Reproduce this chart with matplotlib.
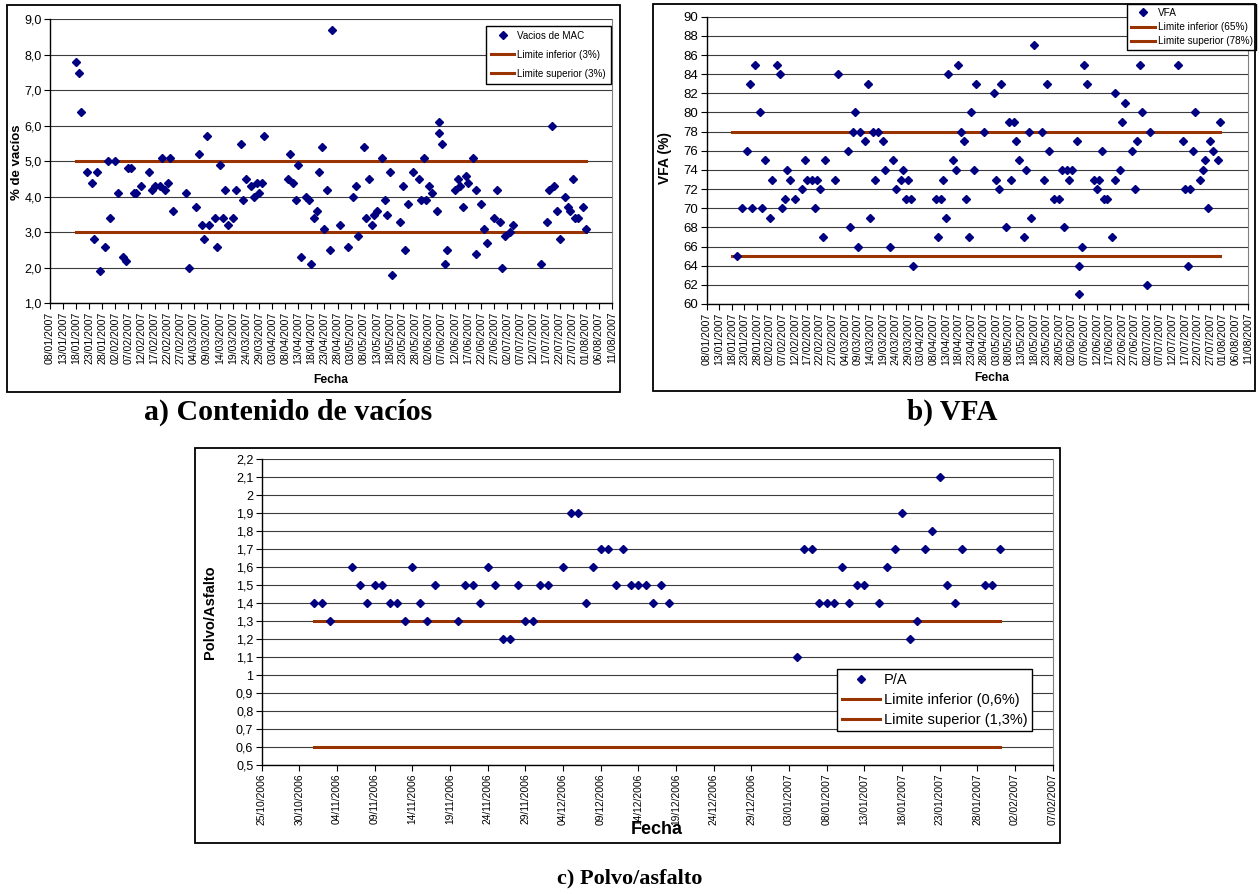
import matplotlib
matplotlib.use('Agg')
import matplotlib.pyplot as plt
import matplotlib.dates as mdates
from matplotlib.patches import Rectangle
from datetime import datetime, timedelta

plt.rcParams['font.family'] = ['Liberation Sans', 'DejaVu Sans']

# ---------------- DATA ----------------
# a) Contenido de vacíos (2007)
a_fechas = [
    '18/01', '19/01', '20/01', '22/01', '24/01', '25/01', '26/01', '27/01', '29/01', '30/01', '31/01',
    '02/02', '03/02', '05/02', '06/02', '07/02', '08/02', '09/02', '10/02', '12/02', '15/02', '16/02',
    '17/02', '19/02', '20/02', '21/02', '22/02', '23/02', '24/02',
    '01/03', '02/03', '05/03', '06/03', '07/03', '08/03', '09/03', '10/03', '12/03', '13/03', '14/03',
    '15/03', '16/03', '17/03', '19/03', '20/03', '22/03', '23/03', '24/03', '26/03', '27/03', '28/03',
    '29/03', '30/03', '31/03',
    '09/04', '10/04', '11/04', '12/04', '13/04', '14/04', '16/04', '17/04', '18/04', '19/04', '20/04',
    '21/04', '22/04', '23/04', '24/04', '25/04', '26/04', '29/04',
    '02/05', '04/05', '05/05', '06/05', '08/05', '09/05', '10/05', '11/05', '12/05', '13/05', '15/05',
    '16/05', '17/05', '18/05', '19/05', '22/05', '23/05', '24/05', '25/05', '27/05', '29/05', '30/05', '31/05',
    '01/06', '02/06', '03/06', '05/06', '06/06', '06/06', '07/06', '08/06', '09/06', '12/06', '13/06',
    '14/06', '15/06', '16/06', '17/06', '19/06', '20/06', '20/06', '22/06', '23/06', '24/06', '27/06',
    '28/06', '29/06', '30/06',
    '01/07', '03/07', '04/07', '15/07', '17/07', '18/07', '19/07', '20/07', '21/07', '22/07', '24/07',
    '25/07', '26/07', '27/07', '28/07', '29/07', '31/07',
    '01/08']
a_vacios = [
    7.8, 7.5, 6.4, 4.7, 4.4, 2.8, 4.7, 1.9, 2.6, 5.0, 3.4,
    5.0, 4.1, 2.3, 2.2, 4.8, 4.8, 4.1, 4.1, 4.3, 4.7, 4.2,
    4.3, 4.3, 5.1, 4.2, 4.4, 5.1, 3.6,
    4.1, 2.0, 3.7, 5.2, 3.2, 2.8, 5.7, 3.2, 3.4, 2.6, 4.9,
    3.4, 4.2, 3.2, 3.4, 4.2, 5.5, 3.9, 4.5, 4.3, 4.0, 4.4,
    4.1, 4.4, 5.7,
    4.5, 5.2, 4.4, 3.9, 4.9, 2.3, 4.0, 3.9, 2.1, 3.4, 3.6,
    4.7, 5.4, 3.1, 4.2, 2.5, 8.7, 3.2,
    2.6, 4.0, 4.3, 2.9, 5.4, 3.4, 4.5, 3.2, 3.5, 3.6, 5.1,
    3.9, 3.5, 4.7, 1.8, 3.3, 4.3, 2.5, 3.8, 4.7, 4.5, 3.9, 5.1,
    3.9, 4.3, 4.1, 3.6, 6.1, 5.8, 5.5, 2.1, 2.5, 4.2, 4.5,
    4.3, 3.7, 4.6, 4.4, 5.1, 4.2, 2.4, 3.8, 3.1, 2.7, 3.4,
    4.2, 3.3, 2.0,
    2.9, 3.0, 3.2, 2.1, 3.3, 4.2, 6.0, 4.3, 3.6, 2.8, 4.0,
    3.7, 3.6, 4.5, 3.4, 3.4, 3.7,
    3.1]
a_anio = 2007
a_limites = [3.0, 5.0]
a_limites_rango = ['18/01/2007', '01/08/2007']
a_eje = ['08/01/2007', '11/08/2007']

# b) VFA (2007)
b_fechas = [
    '20/01', '22/01', '24/01', '25/01', '26/01', '27/01', '29/01', '30/01', '31/01',
    '02/02', '03/02', '05/02', '06/02', '07/02', '08/02', '09/02', '10/02', '12/02', '15/02', '16/02',
    '17/02', '19/02', '20/02', '21/02', '22/02', '23/02', '24/02', '28/02',
    '01/03', '05/03', '06/03', '07/03', '08/03', '09/03', '10/03', '12/03', '13/03', '14/03', '15/03',
    '16/03', '17/03', '19/03', '20/03', '22/03', '23/03', '24/03', '26/03', '27/03', '28/03', '29/03',
    '30/03', '31/03',
    '09/04', '10/04', '11/04', '12/04', '13/04', '14/04', '16/04', '17/04', '18/04', '19/04', '20/04',
    '21/04', '22/04', '23/04', '24/04', '25/04', '28/04',
    '02/05', '03/05', '04/05', '05/05', '07/05', '08/05', '09/05', '10/05', '11/05', '12/05', '14/05',
    '15/05', '16/05', '17/05', '18/05', '21/05', '22/05', '23/05', '24/05', '26/05', '28/05', '29/05',
    '30/05', '31/05',
    '01/06', '02/06', '04/06', '05/06', '05/06', '06/06', '07/06', '08/06', '11/06', '12/06', '13/06',
    '14/06', '15/06', '16/06', '18/06', '19/06', '19/06', '21/06', '22/06', '23/06', '26/06', '27/06',
    '28/06', '29/06', '30/06',
    '02/07', '03/07', '14/07', '16/07', '17/07', '18/07', '19/07', '20/07', '21/07', '23/07', '24/07',
    '25/07', '26/07', '27/07', '28/07', '30/07', '31/07']
b_vfa = [
    65, 70, 76, 83, 70, 85, 80, 70, 75,
    69, 73, 85, 84, 70, 71, 74, 73, 71, 72, 75,
    73, 73, 70, 73, 72, 67, 75, 73,
    84, 76, 68, 78, 80, 66, 78, 77, 83, 69, 78,
    73, 78, 77, 74, 66, 75, 72, 73, 74, 71, 73,
    71, 64,
    71, 67, 71, 73, 69, 84, 75, 74, 85, 78, 77,
    71, 67, 80, 74, 83, 78,
    82, 73, 72, 83, 68, 79, 73, 79, 77, 75, 67,
    74, 78, 69, 87, 78, 73, 83, 76, 71, 71, 74,
    68, 74,
    73, 74, 77, 64, 61, 66, 85, 83, 73, 72, 73,
    76, 71, 71, 67, 73, 82, 74, 79, 81, 76, 72,
    77, 85, 80,
    62, 78, 85, 77, 72, 64, 72, 76, 80, 73, 74,
    75, 70, 77, 76, 75, 79]
b_anio = 2007
b_limites = [65, 78]
b_limites_rango = ['18/01/2007', '31/07/2007']
b_eje = ['08/01/2007', '11/08/2007']

# c) Polvo/asfalto (2006-2007)
c_fechas = [
    '01/11/2006', '02/11/2006', '03/11/2006', '06/11/2006', '07/11/2006', '08/11/2006', '09/11/2006',
    '10/11/2006', '11/11/2006', '12/11/2006', '13/11/2006', '14/11/2006', '15/11/2006', '16/11/2006',
    '17/11/2006', '20/11/2006', '21/11/2006', '22/11/2006', '23/11/2006', '24/11/2006', '25/11/2006',
    '26/11/2006', '27/11/2006', '28/11/2006', '29/11/2006', '30/11/2006',
    '01/12/2006', '02/12/2006', '04/12/2006', '05/12/2006', '06/12/2006', '07/12/2006', '08/12/2006',
    '09/12/2006', '10/12/2006', '11/12/2006', '12/12/2006', '13/12/2006', '14/12/2006', '15/12/2006',
    '16/12/2006', '17/12/2006', '18/12/2006',
    '04/01/2007', '05/01/2007', '06/01/2007', '07/01/2007', '08/01/2007', '09/01/2007', '10/01/2007',
    '11/01/2007', '12/01/2007', '13/01/2007', '15/01/2007', '16/01/2007', '17/01/2007', '18/01/2007',
    '19/01/2007', '20/01/2007', '21/01/2007', '22/01/2007', '23/01/2007', '24/01/2007', '25/01/2007',
    '26/01/2007', '29/01/2007', '30/01/2007', '31/01/2007']
c_pa = [
    1.4, 1.4, 1.3, 1.6, 1.5, 1.4, 1.5,
    1.5, 1.4, 1.4, 1.3, 1.6, 1.4, 1.3,
    1.5, 1.3, 1.5, 1.5, 1.4, 1.6, 1.5,
    1.2, 1.2, 1.5, 1.3, 1.3,
    1.5, 1.5, 1.6, 1.9, 1.9, 1.4, 1.6,
    1.7, 1.7, 1.5, 1.7, 1.5, 1.5, 1.5,
    1.4, 1.5, 1.4,
    1.1, 1.7, 1.7, 1.4, 1.4, 1.4, 1.6,
    1.4, 1.5, 1.5, 1.4, 1.6, 1.7, 1.9,
    1.2, 1.3, 1.7, 1.8, 2.1, 1.5, 1.4,
    1.7, 1.5, 1.5, 1.7]
c_limites = [0.6, 1.3]
c_limites_rango = ['01/11/2006', '31/01/2007']
c_eje = ['25/10/2006', '07/02/2007']

# ---------------- STYLE ----------------
W, H = 1259, 894
fig = plt.figure(figsize=(W / 100, H / 100), dpi=100)
NAVY = '#000080'
BROWN = '#993300'
GRID = '#3c3c3c'


def d(s):
    return datetime.strptime(s, '%d/%m/%Y')


def px_axes(l, t, r, b):
    return fig.add_axes([l / W, 1 - b / H, (r - l) / W, (b - t) / H])


def frame(l, t, r, b):
    fig.patches.append(Rectangle((l / W, 1 - b / H), (r - l) / W, (b - t) / H,
                                 transform=fig.transFigure, fill=False,
                                 edgecolor='black', linewidth=1.3))


def style_axes(ax, eje, yticks, yfmt, xfs, yfs):
    x0, x1 = d(eje[0]), d(eje[1])
    ax.set_xlim(x0, x1)
    ticks = []
    t = x0
    while t <= x1:
        ticks.append(t)
        t += timedelta(days=5)
    ax.set_xticks(ticks)
    ax.xaxis.set_major_formatter(mdates.DateFormatter('%d/%m/%Y'))
    ax.set_yticks(yticks)
    ax.set_yticklabels([yfmt(v) for v in yticks])
    ax.set_ylim(yticks[0], yticks[-1])
    for lab in ax.get_xticklabels():
        lab.set_rotation(90)
        lab.set_fontsize(xfs)
    for lab in ax.get_yticklabels():
        lab.set_fontsize(yfs)
    ax.tick_params(axis='both', direction='out', length=4, width=0.8, pad=2)
    ax.grid(axis='y', color=GRID, linewidth=0.8)
    ax.set_axisbelow(True)
    ax.spines['top'].set_visible(False)
    ax.spines['right'].set_color('#808080')
    ax.spines['right'].set_linewidth(0.8)
    ax.spines['left'].set_linewidth(1.0)
    ax.spines['bottom'].set_linewidth(1.0)


def legend(ax, labels, anchor, fs, **kw):
    leg = ax.legend(labels, loc='upper right', bbox_to_anchor=(anchor[0] / W, 1 - anchor[1] / H),
                    bbox_transform=fig.transFigure, fontsize=fs, frameon=True, fancybox=False,
                    edgecolor='black', framealpha=1, borderaxespad=0, numpoints=1, **kw)
    leg.get_frame().set_linewidth(1.0)
    return leg


# ---------------- a) ----------------
frame(7, 5, 620, 392)
axa = px_axes(50, 19.3, 612, 303.3)
xa = [d(f + '/%d' % a_anio) for f in a_fechas]
axa.plot(xa, a_vacios, linestyle='none', marker='D', ms=4, color=NAVY, zorder=4)
r0, r1 = d(a_limites_rango[0]), d(a_limites_rango[1])
axa.plot([r0, r1], [a_limites[0]] * 2, color=BROWN, lw=2.2, zorder=3)
axa.plot([r0, r1], [a_limites[1]] * 2, color=BROWN, lw=2.2, zorder=3)
style_axes(axa, a_eje, [1, 2, 3, 4, 5, 6, 7, 8, 9],
           lambda v: ('%.1f' % v).replace('.', ','), 7.6, 9)
legend(axa, ['Vacios de MAC', 'Limite inferior (3%)', 'Limite superior (3%)'], (611, 26), 7.1,
       handlelength=2.4, labelspacing=0.9, handletextpad=0.3, borderpad=0.5)
fig.text(17 / W, 1 - 162 / H, '% de vacíos', rotation=90, ha='center', va='center',
         fontsize=9.5, fontweight='bold')
fig.text(331 / W, 1 - 380 / H, 'Fecha', ha='center', va='center', fontsize=8.7, fontweight='bold')
fig.text(288 / W, 1 - 412 / H, 'a) Contenido de vacíos', ha='center', va='center',
         fontsize=21.5, fontweight='bold', family='Liberation Serif')

# ---------------- b) ----------------
frame(653, 4, 1255, 391)
axb = px_axes(706.7, 16.7, 1248, 304)
xb = [d(f + '/%d' % b_anio) for f in b_fechas]
axb.plot(xb, b_vfa, linestyle='none', marker='D', ms=4, color=NAVY, zorder=4)
r0, r1 = d(b_limites_rango[0]), d(b_limites_rango[1])
axb.plot([r0, r1], [b_limites[0]] * 2, color=BROWN, lw=2.2, zorder=3)
axb.plot([r0, r1], [b_limites[1]] * 2, color=BROWN, lw=2.2, zorder=3)
style_axes(axb, b_eje, list(range(60, 91, 2)), lambda v: '%d' % v, 7.6, 9.5)
legend(axb, ['VFA', 'Limite inferior (65%)', 'Limite superior (78%)'], (1256, 4), 7.2,
       handlelength=2.4, labelspacing=0.45, handletextpad=0.3, borderpad=0.35)
fig.text(665 / W, 1 - 158 / H, 'VFA (%)', rotation=90, ha='center', va='center',
         fontsize=10, fontweight='bold')
fig.text(992 / W, 1 - 378 / H, 'Fecha', ha='center', va='center', fontsize=8.7, fontweight='bold')
fig.text(952 / W, 1 - 412 / H, 'b) VFA', ha='center', va='center',
         fontsize=21, fontweight='bold', family='Liberation Serif')

# ---------------- c) ----------------
frame(195, 448, 1060, 843)
axc = px_axes(261.7, 459.2, 1052.7, 765.3)
xc = [d(f) for f in c_fechas]
axc.plot(xc, c_pa, linestyle='none', marker='D', ms=4, color=NAVY, zorder=4)
r0, r1 = d(c_limites_rango[0]), d(c_limites_rango[1])
axc.plot([r0, r1], [c_limites[0]] * 2, color=BROWN, lw=2.2, zorder=3)
axc.plot([r0, r1], [c_limites[1]] * 2, color=BROWN, lw=2.2, zorder=3)
c_ticks = [round(0.5 + 0.1 * i, 1) for i in range(18)]
style_axes(axc, c_eje, c_ticks, lambda v: ('%g' % v).replace('.', ','), 7.4, 9)
legend(axc, ['P/A', 'Limite inferior (0,6%)', 'Limite superior (1,3%)'], (1032, 669), 10.5,
       handlelength=2.6, labelspacing=0.4, handletextpad=0.3, borderpad=0.3)
fig.text(210 / W, 1 - 612 / H, 'Polvo/Asfalto', rotation=90, ha='center', va='center',
         fontsize=10.5, fontweight='bold')
fig.text(657 / W, 1 - 830 / H, 'Fecha', ha='center', va='center', fontsize=13, fontweight='bold')
fig.text(630 / W, 1 - 878 / H, 'c) Polvo/asfalto', ha='center', va='center',
         fontsize=16, fontweight='bold', family='Liberation Serif')

fig.savefig('out.png', dpi=100)
